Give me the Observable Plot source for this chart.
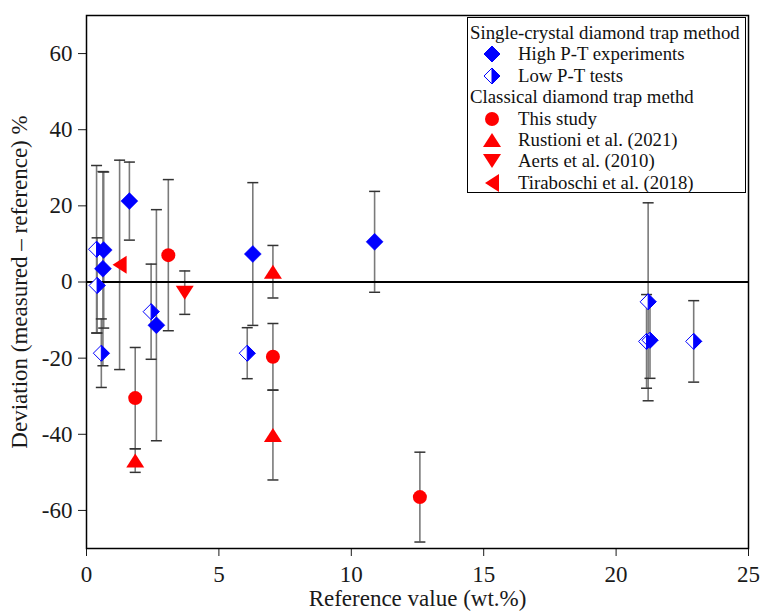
<!DOCTYPE html>
<html><head><meta charset="utf-8">
<script src="https://cdn.jsdelivr.net/npm/d3@7"></script>
<script src="https://cdn.jsdelivr.net/npm/@observablehq/plot@0.6"></script>
<style>
body{margin:0;background:#fff;}
#wrap{position:relative;width:760px;height:611px;}
#wrap svg, #wrap svg g, #wrap svg text{font-family:"Liberation Serif","Times New Roman",serif !important;font-variant:normal !important;font-variant-numeric:normal !important;}
#legend{position:absolute;left:467px;top:17px;width:279px;height:176px;border:1.5px solid #000;background:#fff;font-family:"Liberation Serif","Times New Roman",serif;font-size:18.8px;color:#111;box-sizing:border-box;}
.row{position:absolute;height:22px;line-height:22px;white-space:nowrap;}
.row svg{position:absolute;left:14px;top:2px;}
.row span{position:absolute;left:50px;}
.row.head span{left:2px;}
</style></head><body><div id="wrap"></div>
<script>
// ---- data: [reference value (wt.%), deviation (%), error (±%)] ----
const xTicks = [0, 5, 10, 15, 20, 25];
const yTicks = [-60, -40, -20, 0, 20, 40, 60];

const highPT = [
  [0.65, 8.4, 20.5],
  [0.62, 3.5, 25.5],
  [1.62, 21.25, 10.25],
  [2.64, -11.35, 30.35],
  [6.28, 7.35, 18.75],
  [10.88, 10.55, 13.25]
];
const lowPT = [
  [0.38, 8.6, 22],
  [0.40, -0.9, 12.5],
  [0.56, -18.7, 9],
  [2.44, -7.8, 12.5],
  [6.07, -18.7, 6.7],
  [21.21, -5.2, 26],
  [21.15, -15.6, 12.3],
  [21.28, -15.3, 10],
  [22.93, -15.6, 10.7]
];
const thisStudy = [
  [1.84, -30.5, 13.3],
  [3.09, 7.05, 19.85],
  [7.04, -19.65, 8.75],
  [12.59, -56.5, 11.8]
];
const rustioni = [
  [1.84, -46.9, 3.1],
  [7.04, 2.7, 6.9],
  [7.04, -40.2, 11.8]
];
const aerts = [
  [3.71, -2.8, 5.7]
];
const tiraboschi = [
  [1.25, 4.5, 27.5]
];

const legendHeaders = ["Single-crystal diamond trap method", "Classical diamond trap methd"];
const legendLabels = ["High P-T experiments", "Low P-T tests", "This study", "Rustioni et al. (2021)", "Aerts et al. (2010)", "Tiraboschi et al. (2018)"];

// ---- custom symbols ----
const R = s => Math.sqrt(s / Math.PI);
const diamond = {draw(c, s) { const h = R(s); c.moveTo(0, -h); c.lineTo(h, 0); c.lineTo(0, h); c.lineTo(-h, 0); c.closePath(); }};
const halfRight = {draw(c, s) { const h = R(s); c.moveTo(0, -h); c.lineTo(h, 0); c.lineTo(0, h); c.closePath(); }};
const triUp = {draw(c, s) { const h = R(s); c.moveTo(0, -0.78 * h); c.lineTo(h, 0.78 * h); c.lineTo(-h, 0.78 * h); c.closePath(); }};
const triDown = {draw(c, s) { const h = R(s); c.moveTo(0, 0.78 * h); c.lineTo(h, -0.78 * h); c.lineTo(-h, -0.78 * h); c.closePath(); }};
const triLeft = {draw(c, s) { const h = R(s); c.moveTo(-0.78 * h, 0); c.lineTo(0.78 * h, -h); c.lineTo(0.78 * h, h); c.closePath(); }};
const cap = {draw(c, s) { c.moveTo(-5.5, 0); c.lineTo(5.5, 0); }};

const BLUE = "#0000ff", RED = "#ff0000";
const all = [...highPT, ...lowPT, ...thisStudy, ...rustioni, ...aerts, ...tiraboschi];
const X = d => d[0], Y = d => d[1];

const marks = [
  Plot.ruleX(all, {x: X, y1: d => d[1] - d[2], y2: d => d[1] + d[2], stroke: "#7a7a7a", strokeWidth: 1.6}),
  Plot.dot(all, {x: X, y: d => d[1] - d[2], symbol: cap, stroke: "#333", strokeWidth: 1.5}),
  Plot.dot(all, {x: X, y: d => d[1] + d[2], symbol: cap, stroke: "#333", strokeWidth: 1.5}),
  Plot.ruleY([0], {stroke: "#000", strokeWidth: 2}),
  Plot.dot(highPT, {x: X, y: Y, symbol: diamond, r: 8.5, fill: BLUE, stroke: BLUE, strokeWidth: 0.5}),
  Plot.dot(lowPT, {x: X, y: Y, symbol: diamond, r: 8, fill: "white", stroke: BLUE, strokeWidth: 1}),
  Plot.dot(lowPT, {x: X, y: Y, symbol: halfRight, r: 8, fill: BLUE, stroke: BLUE, strokeWidth: 1}),
  Plot.dot(thisStudy, {x: X, y: Y, symbol: "circle", r: 7, fill: RED}),
  Plot.dot(rustioni, {x: X, y: Y, symbol: triUp, r: 9, fill: RED}),
  Plot.dot(aerts, {x: X, y: Y, symbol: triDown, r: 9, fill: RED}),
  Plot.dot(tiraboschi, {x: X, y: Y, symbol: triLeft, r: 9, fill: RED}),
  Plot.frame({stroke: "#000", strokeWidth: 1.5})
];

const chart = Plot.plot({
  width: 760, height: 611,
  marginLeft: 86, marginRight: 12, marginTop: 15, marginBottom: 63,
  style: {fontFamily: "Liberation Serif, serif", fontSize: "23px", color: "#1a1a1a", background: "white", overflow: "visible"},
  x: {domain: [0, 25], ticks: xTicks, tickSize: 8, tickPadding: 9, tickFormat: d => String(d), label: "Reference value (wt.%)", labelAnchor: "center", labelOffset: 57, labelArrow: "none"},
  y: {domain: [-70, 70], ticks: yTicks, tickSize: 8, tickPadding: 6, tickFormat: d => String(d), label: "Deviation (measured – reference) %", labelAnchor: "center", labelOffset: 76, labelArrow: "none"},
  marks
});
document.getElementById("wrap").appendChild(chart);

// ---- legend overlay ----
const legend = document.createElement("div");
legend.id = "legend";
document.getElementById("wrap").appendChild(legend);
const legendSymbols = [
  [{s: diamond, r: 8, fill: BLUE, stroke: BLUE}],
  [{s: diamond, r: 8, fill: "white", stroke: BLUE}, {s: halfRight, r: 8, fill: BLUE, stroke: BLUE}],
  [{s: d3.symbolCircle, r: 7, fill: RED}],
  [{s: triUp, r: 9, fill: RED}],
  [{s: triDown, r: 9, fill: RED}],
  [{s: triLeft, r: 9, fill: RED}]
];
const rows = [
  {head: legendHeaders[0]},
  {i: 0}, {i: 1},
  {head: legendHeaders[1]},
  {i: 2}, {i: 3}, {i: 4}, {i: 5}
];
rows.forEach((row, k) => {
  const el = document.createElement("div");
  el.className = "row" + (row.head ? " head" : "");
  el.style.top = (4 + k * 21.4) + "px";
  if (row.head) {
    el.innerHTML = `<span>${row.head}</span>`;
  } else {
    const paths = legendSymbols[row.i].map(p =>
      `<path transform="translate(10,9)" d="${d3.symbol(p.s, Math.PI * p.r * p.r)()}" fill="${p.fill}" stroke="${p.stroke || "none"}" stroke-width="1"/>`).join("");
    el.innerHTML = `<svg width="20" height="18">${paths}</svg><span>${legendLabels[row.i]}</span>`;
  }
  legend.appendChild(el);
});
</script>
</body></html>
